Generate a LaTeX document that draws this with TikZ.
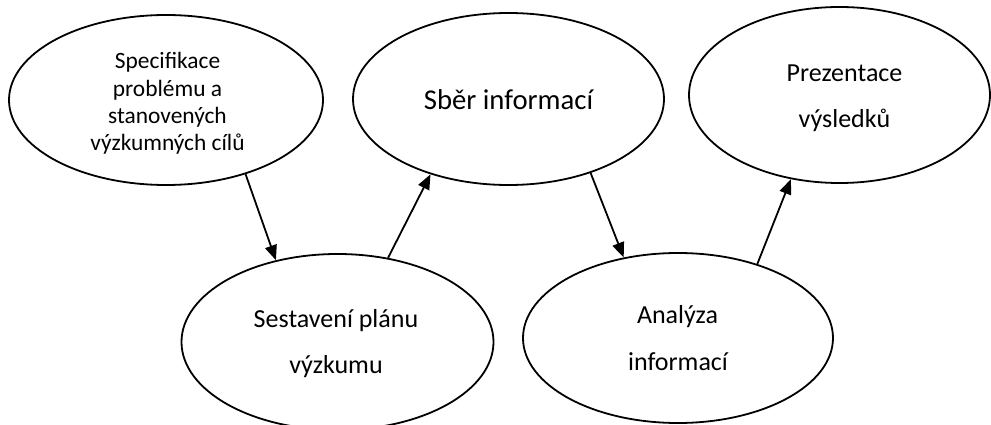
\documentclass[tikz,border=0pt]{standalone}
\usepackage{fontspec}
\setmainfont{Carlito}
\usetikzlibrary{shapes.geometric,arrows.meta}
\begin{document}
\begin{tikzpicture}[x=1pt,y=-1pt,
  oval/.style={draw=black,line width=1.8pt,ellipse,inner sep=0pt,fill=white},
  txt/.style={anchor=base,inner sep=0pt,text=black},
  small/.style={txt,font=\fontsize{23.4}{27}\selectfont},
  mid/.style={txt,font=\fontsize{26}{30}\selectfont},
  big/.style={txt,font=\fontsize{28.7}{33}\selectfont},
  flow/.style={line width=1.8pt,-{Triangle[length=15pt,width=12pt]}}]
  \useasboundingbox[fill=white] (0,0) rectangle (991,425);

  % process stages
  \node[oval,minimum width=314pt,minimum height=170pt] (spec) at (166,100) {};
  \node[oval,minimum width=311pt,minimum height=172pt] (sber) at (508.5,99) {};
  \node[oval,minimum width=301pt,minimum height=176pt] (prez) at (839.5,95) {};
  \node[oval,minimum width=312pt,minimum height=176pt] (plan) at (337.5,342) {};
  \node[oval,minimum width=310pt,minimum height=170pt] (anal) at (678,338) {};

  % labels
  \node[small] (spec1) at (167.5,69) {Specifikace};
  \node[small] (spec2) at (167.5,96.5) {problému a};
  \node[small] (spec3) at (167.5,124) {stanovených};
  \node[small] (spec4) at (167.5,151) {výzkumných cílů};

  \node[big] (sber1) at (508.5,110) {Sběr informací};

  \node[mid] (prez1) at (844.5,82) {Prezentace};
  \node[mid] (prez2) at (844.5,128) {výsledků};

  \node[mid] (plan1) at (336,327) {Sestavení plánu};
  \node[mid] (plan2) at (336,373) {výzkumu};

  \node[mid] (anal1) at (677.5,323) {Analýza};
  \node[mid] (anal2) at (678,370) {informací};

  % flow between stages
  \draw[flow] (spec.-43.5) -- (plan.127.3);
  \draw[flow] (plan.59.3) -- (sber.224.8);
  \draw[flow] (sber.-42.2) -- (anal.124.5);
  \draw[flow] (anal.43.2) -- (prez.240.4);
\end{tikzpicture}
\end{document}
